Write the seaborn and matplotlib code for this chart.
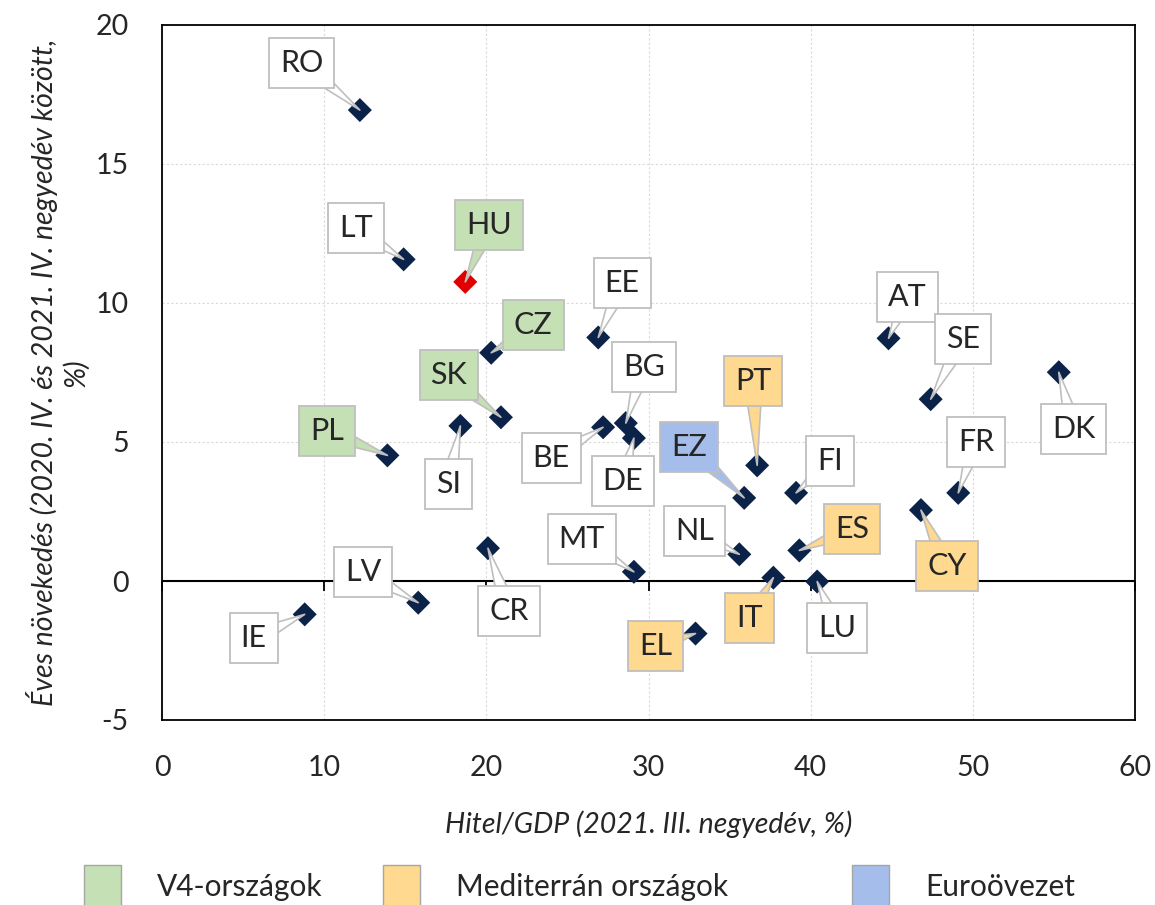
import pandas as pd
import matplotlib.pyplot as plt
import seaborn as sns
from matplotlib.patches import Patch
from matplotlib.lines import TICKDOWN

# adatok
orszagok = ['RO', 'LT', 'HU', 'CZ', 'EE', 'SK', 'SI', 'PL', 'BE', 'BG', 'DE', 'CR', 'MT', 'LV',
            'IE', 'PT', 'EZ', 'FI', 'NL', 'ES', 'IT', 'LU', 'EL', 'AT', 'SE', 'DK', 'FR', 'CY']
hitel_gdp = [12.2, 14.9, 18.7, 20.3, 26.9, 20.9, 18.4, 13.9, 27.2, 28.6, 29.1, 20.1, 29.1, 15.8,
             8.8, 36.7, 35.9, 39.1, 35.6, 39.3, 37.7, 40.4, 32.9, 44.8, 47.4, 55.3, 49.1, 46.8]
novekedes = [16.94, 11.57, 10.76, 8.21, 8.76, 5.89, 5.58, 4.52, 5.53, 5.68, 5.14, 1.18, 0.33, -0.78,
             -1.2, 4.16, 2.99, 3.17, 0.96, 1.10, 0.12, -0.02, -1.89, 8.73, 6.54, 7.51, 3.17, 2.55]
csoport = ['egyeb', 'egyeb', 'V4', 'V4', 'egyeb', 'V4', 'egyeb', 'V4', 'egyeb', 'egyeb', 'egyeb',
           'egyeb', 'egyeb', 'egyeb', 'egyeb', 'med', 'ez', 'egyeb', 'egyeb', 'med', 'med', 'egyeb',
           'med', 'egyeb', 'egyeb', 'egyeb', 'egyeb', 'med']

# cimkek eltolasa pixelben (doboz kozepe a ponthoz kepest)
eltolas = {'RO': (-58, 47), 'LT': (-48, 31), 'HU': (24, 57), 'CZ': (42, 28), 'EE': (24, 54),
           'SK': (-52, 42), 'SI': (-12, -58), 'PL': (-60, 24), 'BE': (-52, -31), 'BG': (18, 56),
           'DE': (-11, -43), 'CR': (21, -63), 'MT': (-52, 33), 'LV': (-55, 31), 'IE': (-51, -24),
           'PT': (-4, 84), 'EZ': (-55, 51), 'FI': (34, 32), 'NL': (-45, 23), 'ES': (53, 21),
           'IT': (-24, -40), 'LU': (20, -46), 'EL': (-40, -12), 'AT': (19, 41), 'SE': (32, 60),
           'DK': (15, -57), 'FR': (18, 51), 'CY': (26, -56)}

szinek = {'egyeb': 'white', 'V4': '#c5e0b4', 'med': '#ffd98f', 'ez': '#a5bdea'}

df = pd.DataFrame({'orszag': orszagok, 'x': hitel_gdp, 'y': novekedes, 'csoport': csoport})
df['kiemelt'] = df['orszag'].eq('HU')

sns.set_style('white')
plt.rcParams['font.family'] = ['Lato', 'DejaVu Sans']
plt.rcParams['axes.unicode_minus'] = False

fig = plt.figure(figsize=(11.55, 9.05), dpi=100)
ax = fig.add_axes([162 / 1155, 1 - 720 / 905, 973 / 1155, 695 / 905])

ax.set_xlim(0, 60)
ax.set_ylim(-5, 20)
ax.set_xticks(range(0, 61, 10))
ax.set_yticks(range(-5, 21, 5))
ax.grid(True, color='#d9d9d9', linestyle=(0, (2, 2)), linewidth=0.8)
ax.set_axisbelow(True)
for s in ax.spines.values():
    s.set_color('black')
    s.set_linewidth(1.3)
ax.tick_params(axis='both', length=0, labelsize=20.5)
ax.tick_params(axis='x', pad=25)
ax.tick_params(axis='y', pad=24)

# vizszintes tengely a nullanal, kis osztasokkal
ax.axhline(0, color='black', lw=1.5, zorder=2)
osztas = ax.get_xticks()
ax.plot(osztas, [0] * len(osztas), linestyle='none', marker=TICKDOWN, ms=7, mew=1.3,
        color='black', zorder=2, clip_on=False)

sns.scatterplot(data=df, x='x', y='y', hue='kiemelt', palette={False: '#0c2349', True: '#e00000'},
                marker='D', s=150, edgecolor='none', legend=False, ax=ax, zorder=3)

for _, r in df.iterrows():
    fc = szinek[r['csoport']]
    ax.annotate(r['orszag'], xy=(r['x'], r['y']), xytext=eltolas[r['orszag']],
                textcoords='offset pixels', ha='center', va='center', fontsize=22, zorder=4,
                bbox=dict(boxstyle='square,pad=0.36', fc=fc, ec='#bfbfbf', lw=1.3),
                arrowprops=dict(arrowstyle='wedge,tail_width=0.6,shrink_factor=0.5',
                                fc=fc, ec='#bfbfbf', lw=1.2, patchA=None, shrinkA=0, shrinkB=0))

ax.set_xlabel('Hitel/GDP (2021. III. negyedév, %)', fontsize=20.5, style='italic')
ax.xaxis.set_label_coords(0.5, -0.13)
ax.set_ylabel('Éves növekedés (2020. IV. és 2021. IV. negyedév között,\n%)',
              fontsize=20.5, style='italic', linespacing=1.2)
ax.yaxis.set_label_coords(-0.075, 0.5)

cimkek = [('V4-országok', '#c5e0b4', 84), ('Mediterrán országok', '#ffd98f', 383),
          ('Euroövezet', '#a5bdea', 852)]
for nev, szin, bal in cimkek:
    leg = fig.legend(handles=[Patch(fc=szin, ec='#a6a6a6', lw=1.0, label=nev)],
                     loc='center left', bbox_to_anchor=(bal / 1155, 1 - 886 / 905),
                     frameon=False, fontsize=21.5, handlelength=1.25, handleheight=1.8,
                     handletextpad=1.2, borderpad=0, borderaxespad=0)

fig.savefig('out.png', dpi=100)
